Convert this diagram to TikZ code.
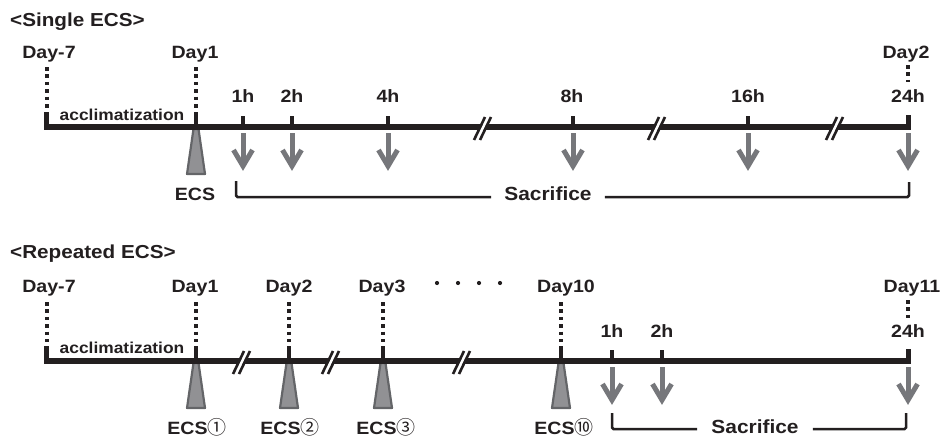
\documentclass[tikz,border=0pt]{standalone}
\usepackage{fontspec}
\setmainfont{Liberation Sans}[FakeStretch=1.1]
\newfontfamily\circfont{Noto Sans CJK JP}
\definecolor{ink}{RGB}{35,31,32}
\definecolor{arrowgray}{RGB}{118,119,123}
\definecolor{trifill}{RGB}{145,145,148}
\definecolor{triedge}{RGB}{100,101,104}
\tikzset{
  tl/.style={draw=ink, line width=6pt},
  daytick/.style={draw=ink, line width=4.5pt},
  hrtick/.style={draw=ink, line width=4.5pt},
  dotline/.style={draw=ink, line width=4pt, dash pattern=on 3.5pt off 3.9pt},
  brk/.style={draw=ink, line width=2.5pt, rounded corners=1.5pt},
  lbl/.style={font=\fontsize{17.8}{20}\selectfont\bfseries, text=ink, anchor=base, inner sep=0pt},
  ttl/.style={font=\fontsize{18.8}{21}\selectfont\bfseries, text=ink, anchor=base west, inner sep=0pt},
  acc/.style={font=\fontsize{15.8}{18}\selectfont\bfseries, text=ink, anchor=base, inner sep=0pt},
  sac/.style={font=\fontsize{19}{22}\selectfont\bfseries, text=ink, anchor=base, inner xsep=13pt, inner ysep=0pt},
  sarrow/.pic={
    \draw[arrowgray, line width=5pt] (0,6) -- (0,37);
    \draw[arrowgray, line width=5pt, line join=miter, miter limit=10] (-9.5,23) -- (0,39) -- (9.5,23);
  },
  ecsmark/.pic={
    \filldraw[fill=trifill, draw=triedge, line width=2.2pt, line join=round]
      (-2.5,2) -- (2.5,2) -- (9,47) -- (-9,47) -- cycle;
  },
  brkmark/.pic={
    \draw[white, line width=3pt] (-6,13) -- (5,-10);
    \draw[ink, line width=2.6pt] (-9,13) -- (2,-10) (-3,13) -- (8,-10);
  }
}
\newcommand{\circd}[1]{{\fontsize{19}{20}\selectfont\circfont\mdseries #1}}
\begin{document}
\begin{tikzpicture}[x=1pt,y=-1pt]
\useasboundingbox (0,0) rectangle (944,436);

% ================= Single ECS =================
\node[ttl] (t1) at (10,27) {<Single ECS>};
\node[lbl] (d7a) at (49,59) {Day-7};
\node[lbl] (d1a) at (195,59) {Day1};
\node[lbl] (d2a) at (906,59) {Day2};
\node[lbl] (h1a) at (243,102) {1h};
\node[lbl] (h2a) at (292,102) {2h};
\node[lbl] (h4a) at (388,102) {4h};
\node[lbl] (h8a) at (572,102) {8h};
\node[lbl] (h16a) at (748,102) {16h};
\node[lbl] (h24a) at (908,102) {24h};
\node[acc] (acca) at (122,120) {acclimatization};
\node[lbl] (ecsa) at (195,200) {ECS};
\node[sac] (saca) at (548,200) {Sacrifice};

\pic at (196,127) {ecsmark};
\coordinate (tlAs) at (44.3,127);
\coordinate (tlAe) at (911,127);
\draw[tl] (tlAs) -- (tlAe);

% day markers
\draw[dotline] (46.5,67) -- (46.5,108);
\draw[daytick] (46.5,112) -- (46.5,127);
\draw[dotline] (196,67) -- (196,108);
\draw[daytick] (196,112) -- (196,127);
\draw[dotline] (908,65) -- (908,82);
% hour ticks
\foreach \x in {243,292,388,573,748} { \draw[hrtick] (\x,116) -- (\x,127); }
\draw[hrtick, line width=5pt] (908.5,115) -- (908.5,127);
% breaks
\foreach \x in {483,657,835} { \pic at (\x,127) {brkmark}; }
% arrows
\foreach \x in {243,292,388,573,748,908} { \pic at (\x,127) {sarrow}; }
% bracket
\coordinate (sAt) at (236,181);
\coordinate (sAb) at (236,197);
\coordinate (sBb) at (909,197);
\coordinate (sBt) at (909,182);
\draw[brk] (sAt) -- (sAb) -- (saca.west |- sAb);
\draw[brk] (saca.east |- sBb) -- (sBb) -- (sBt);

% ================= Repeated ECS =================
\node[ttl] (t2) at (10,258) {<Repeated ECS>};
\node[lbl] (d7b) at (49,292) {Day-7};
\node[lbl] (d1b) at (195,292) {Day1};
\node[lbl] (d2b) at (289,292) {Day2};
\node[lbl] (d3b) at (382,292) {Day3};
\node[lbl] (d10b) at (566,292) {Day10};
\node[lbl] (d11b) at (912,292) {Day11};
\foreach \x in {437,458,479,500} { \fill[ink] (\x,283) circle (2.1); }
\node[lbl] (h1b) at (612,337) {1h};
\node[lbl] (h2b) at (662,337) {2h};
\node[lbl] (h24b) at (908,337) {24h};
\node[acc] (accb) at (122,353) {acclimatization};
\node[lbl] (e1b) at (197,434) {ECS\circd{①}};
\node[lbl] (e2b) at (290,434) {ECS\circd{②}};
\node[lbl] (e3b) at (386,434) {ECS\circd{③}};
\node[lbl] (e10b) at (564,434) {ECS\circd{⑩}};
\node[sac, inner xsep=14pt] (sacb) at (755,433) {Sacrifice};

\foreach \x in {196,289,383,561} { \pic at (\x,361) {ecsmark}; }
\coordinate (tlBs) at (44.3,361);
\coordinate (tlBe) at (911,361);
\draw[tl] (tlBs) -- (tlBe);

\foreach \x in {46.5,196,289,383,561} {
  \draw[dotline] (\x,302) -- (\x,342);
  \draw[daytick] (\x,346) -- (\x,361);
}
\draw[dotline] (908,300) -- (908,318);
\foreach \x in {612,662} { \draw[hrtick] (\x,350) -- (\x,361); }
\draw[hrtick, line width=5pt] (908.5,349) -- (908.5,361);
\foreach \x in {242,331,462} { \pic at (\x,361) {brkmark}; }
\foreach \x in {612,662,908} { \pic at (\x,361) {sarrow}; }

\coordinate (rAt) at (612,413);
\coordinate (rAb) at (612,429);
\coordinate (rBb) at (906,429);
\coordinate (rBt) at (906,413);
\draw[brk] (rAt) -- (rAb) -- (sacb.west |- rAb);
\draw[brk] (sacb.east |- rBb) -- (rBb) -- (rBt);
\end{tikzpicture}
\end{document}
